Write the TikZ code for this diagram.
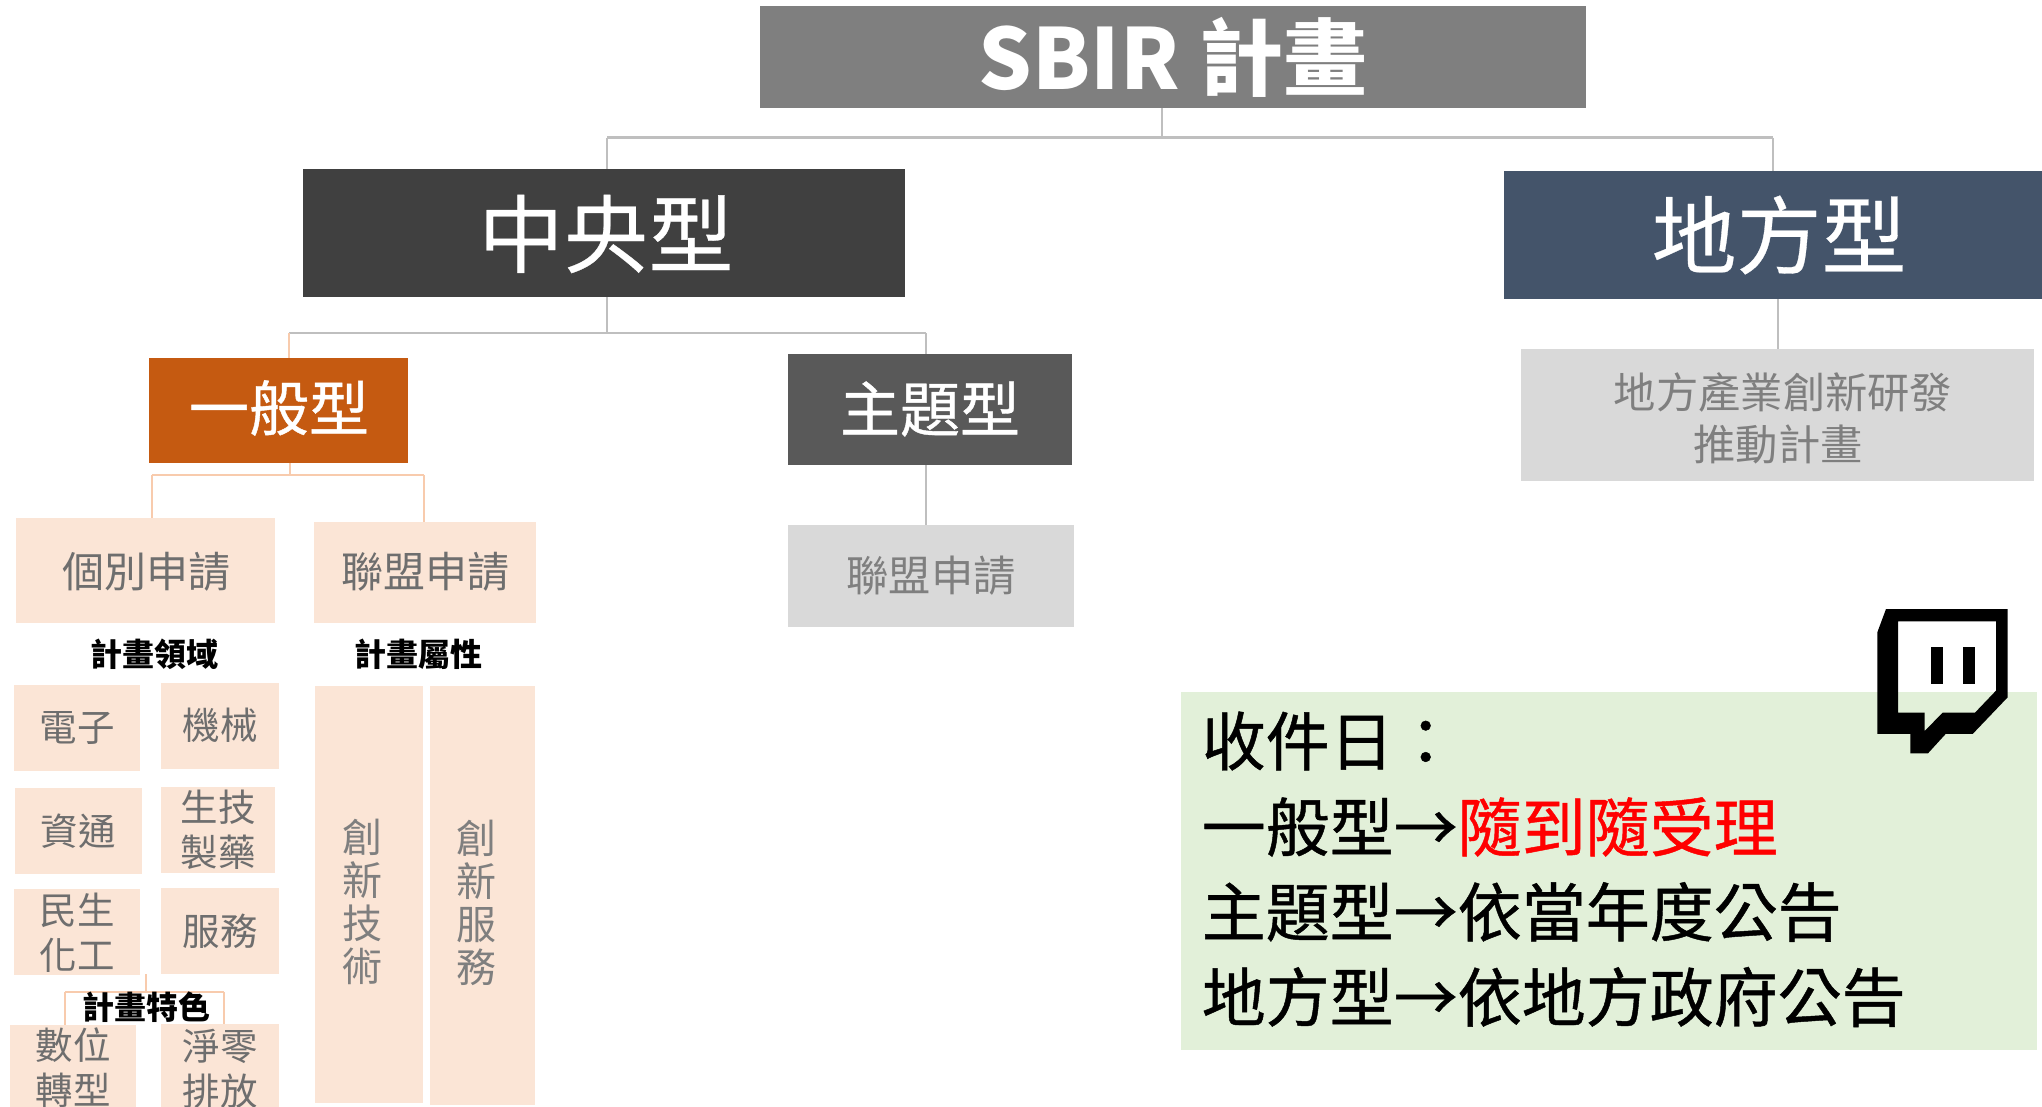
\documentclass[tikz,border=0pt]{standalone}
\usepackage{fontspec}
\setmainfont{Noto Sans CJK TC}
\newfontfamily\medf[FakeBold=0.35]{Noto Sans CJK TC}
\newfontfamily\semif[FakeBold=0.7]{Noto Sans CJK TC}
\definecolor{cTitle}{HTML}{7F7F7F}
\definecolor{cZhong}{HTML}{404040}
\definecolor{cDifang}{HTML}{44546A}
\definecolor{cYiban}{HTML}{C55A11}
\definecolor{cZhuti}{HTML}{595959}
\definecolor{cGrey}{HTML}{D9D9D9}
\definecolor{cPeach}{HTML}{FBE5D6}
\definecolor{cPeachLine}{HTML}{F8CBAD}
\definecolor{cLine}{HTML}{BFBFBF}
\definecolor{cGreen}{HTML}{E2F0D9}
\definecolor{cPeachText}{HTML}{6E6E6E}
\definecolor{cGreyText}{HTML}{7F7F7F}
\newcommand{\fsz}[2]{\fontsize{#1}{#2}\selectfont}
% box: style, name, x0, y0, x1, y1
\newcommand{\bx}[6]{%
  \pgfmathsetmacro{\bxw}{#5-#3}\pgfmathsetmacro{\bxh}{#6-#4}%
  \pgfmathsetmacro{\bxx}{(#3+#5)/2}\pgfmathsetmacro{\bxy}{(#4+#6)/2}%
  \node[#1,minimum width=\bxw pt,minimum height=\bxh pt] (#2) at (\bxx,\bxy) {};}
\tikzset{
  boxbase/.style={rectangle,inner sep=0pt,draw=none},
  title/.style={boxbase,fill=cTitle},
  zhong/.style={boxbase,fill=cZhong},
  difang/.style={boxbase,fill=cDifang},
  yiban/.style={boxbase,fill=cYiban},
  zhuti/.style={boxbase,fill=cZhuti},
  greybox/.style={boxbase,fill=cGrey},
  peachbox/.style={boxbase,fill=cPeach},
  txt/.style={inner sep=0pt,align=center},
  big/.style={txt,text=white,font=\medf\fsz{85}{90}},
  mid/.style={txt,text=white,font=\semif\fsz{60}{64}},
  sub/.style={txt,text=cPeachText,font=\fsz{42}{52}},
  subg/.style={txt,text=cGreyText,font=\fsz{42.3}{52}},
  small/.style={txt,text=cPeachText,font=\fsz{37.5}{45}},
  smallg/.style={txt,text=cGreyText,font=\fsz{40}{43}},
  head/.style={txt,text=black,font=\fsz{32}{36}\bfseries},
  note/.style={inner sep=0pt,anchor=west,text=black,font=\semif\fsz{64}{70}},
  gl/.style={draw=cLine,line width=2pt},
  gt/.style={draw=cLine,line width=3pt},
  pl/.style={draw=cPeachLine,line width=2.4pt},
}
\begin{document}
\begin{tikzpicture}[x=1pt,y=-1pt]
\useasboundingbox (0,0) rectangle (2042,1107);
\clip (0,0) rectangle (2042,1107);
\fill[white] (0,0) rectangle (2042,1107);
% boxes
\bx{title}{sbir}{760}{6}{1586}{108}
\bx{zhong}{zy}{303}{169}{905}{297}
\bx{difang}{df}{1504}{171}{2042}{299}
\bx{yiban}{yb}{149}{358}{408}{463}
\bx{zhuti}{zt}{788}{354}{1072}{465}
\bx{greybox}{dfbox}{1521}{349}{2034}{481}
\bx{greybox}{ztbox}{788}{525}{1074}{627}
\bx{peachbox}{gb}{16}{518}{275}{623}
\bx{peachbox}{lm}{314}{522}{536}{623}
\bx{peachbox}{dz}{14}{685}{140}{771}
\bx{peachbox}{jx}{161}{683}{279}{769}
\bx{peachbox}{zt2}{15}{788}{142}{874}
\bx{peachbox}{sj}{161}{787}{275}{873}
\bx{peachbox}{mh}{14}{889}{140}{975}
\bx{peachbox}{fw}{161}{888}{279}{974}
\bx{peachbox}{sw}{10}{1025}{136}{1107}
\bx{peachbox}{jl}{161}{1024}{279}{1107}
\bx{peachbox}{cj}{315}{686}{423}{1103}
\bx{peachbox}{cf}{430}{686}{535}{1105}
\bx{boxbase,fill=cGreen}{notebox}{1181}{692}{2037}{1050}
% junctions
\coordinate (j1) at (1162,138);
\coordinate (j1l) at (607,138);
\coordinate (j1r) at (1773,138);
\coordinate (j2) at (607,333);
\coordinate (j2l) at (289,333);
\coordinate (j2r) at (926,333);
\coordinate (j3) at (290,475);
\coordinate (j3l) at (152,475);
\coordinate (j3r) at (424,475);
\coordinate (j4) at (146,992);
\coordinate (j4t) at (146,974);
\coordinate (j4l) at (65,992);
\coordinate (j4r) at (224,992);
% connectors
\draw[gl] (sbir.south -| j1) -- (j1);
\draw[gt] (j1l) -- (j1r);
\draw[gl] (j1l) -- (zy.north -| j1l);
\draw[gl] (j1r) -- (df.north -| j1r);
\draw[gl] (zy.south -| j2) -- (j2);
\draw[gl] (j2l) -- (j2r);
\draw[pl] (j2l) -- (yb.north -| j2l);
\draw[gl] (j2r) -- (zt.north -| j2r);
\draw[gl] (zt.south -| j2r) -- (ztbox.north -| j2r);
\draw[gl] (df.south -| dfbox) -- (dfbox.north);
\draw[pl] (yb.south -| j3) -- (j3);
\draw[pl] (j3l) -- (j3r);
\draw[pl] (j3l) -- (gb.north -| j3l);
\draw[pl] (j3r) -- (lm.north -| j3r);
\draw[pl] (j4t) -- (j4);
\draw[pl] (j4l) -- (j4r);
\draw[pl] (j4l) -- (sw.north -| j4l);
\draw[pl] (j4r) -- (jl.north -| j4r);
% box texts
\node[txt,text=white,font=\fsz{84}{90}\bfseries] (tsbir) at (1173,57) {SBIR 計畫};
\node[big] (tzy) at (606,234) {中央型};
\node[big] (tdf) at (1779,235) {地方型};
\node[mid] (tyb) at (279,408) {一般型};
\node[mid] (tzt) at (930,409) {主題型};
\node[subg] (tdfbox) at (1783,418) {地方產業創新研發\\推動計畫\hspace*{10pt}};
\node[subg] (tztbox) at (931,576) {聯盟申請};
\node[sub] (tgb) at (146,572) {個別申請};
\node[sub] (tlm) at (425,572) {聯盟申請};
\node[head] (h1) at (154,654) {計畫領域};
\node[head] (h2) at (418,654) {計畫屬性};
\node[small] (tdz) at (77,728) {電子};
\node[small] (tjx) at (220,725) {機械};
\node[small] (tzt2) at (78,831) {資通};
\node[small] (tsj) at (218,830) {生技\\製藥};
\node[small] (tmh) at (77,933) {民生\\化工};
\node[small] (tfw) at (220,931) {服務};
\node[head] (h3) at (146,1007) {計畫特色};
\node[small] (tsw) at (73,1068) {數位\\轉型};
\node[small] (tjl) at (220,1069) {淨零\\排放};
\node[smallg] (tcj) at (362,902) {創\\新\\技\\術};
\node[smallg] (tcf) at (476,903) {創\\新\\服\\務};
% note
\node[note] (n1) at (1201.5,741) {收件日：};
\node[note] (n2) at (1201.5,827) {一般型→\textcolor{red}{隨到隨受理}};
\node[note] (n3) at (1201.5,912) {主題型→依當年度公告};
\node[note] (n4) at (1201.5,997) {地方型→依地方政府公告};
% twitch icon
\begin{scope}[shift={(1780,590)},x=0.3333pt,y=-0.3333pt]
\fill[black,even odd rule]
  (318,57) -- (683,57) -- (683,322) -- (578,432) -- (497,432) -- (444,490) -- (391,490) -- (391,432) -- (292,432) -- (292,127) -- cycle
  (354,94) -- (648,94) -- (648,302) -- (585,368) -- (488,368) -- (434,423) -- (434,368) -- (354,368) -- cycle;
\fill[black] (452,170) rectangle (488,283);
\fill[black] (550,170) rectangle (586,283);
\end{scope}
\end{tikzpicture}
\end{document}
